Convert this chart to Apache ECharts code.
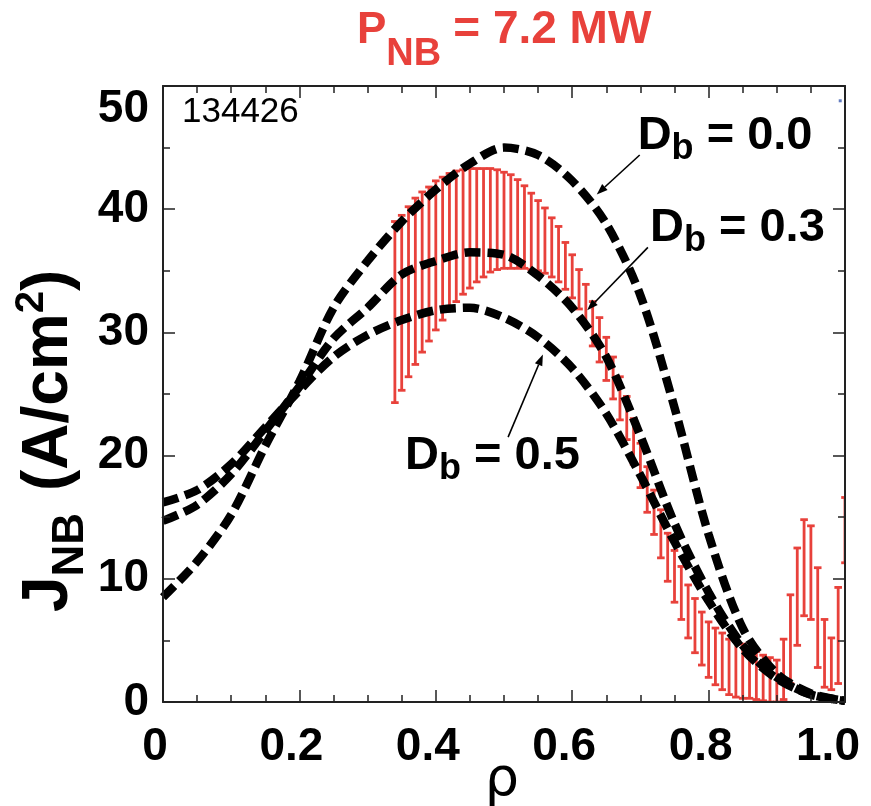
<!DOCTYPE html>
<html><head><meta charset="utf-8">
<script src="https://cdn.jsdelivr.net/npm/echarts@6/dist/echarts.min.js"></script>
<style>html,body{margin:0;padding:0;background:#fff}#c{width:871px;height:806px}</style>
</head><body><div id="c"></div>
<script>
// ---- data ----
const rhoGrid = [0,0.05,0.1,0.15,0.2,0.25,0.3,0.35,0.4,0.45,0.5,0.55,0.6,0.65,0.7,0.75,0.8,0.85,0.9,0.95,1.0];
const jDb00 = [8.5,11.4,15.2,20.8,26.0,32.0,35.8,39.0,41.6,43.7,45.0,44.4,42.3,38.8,33.0,23.9,13.6,6.0,2.3,0.7,0.1];
const jDb03 = [14.7,16.0,18.5,22.0,25.6,29.5,32.0,34.7,35.8,36.5,36.3,34.6,32.0,28.0,21.6,14.5,8.9,4.6,2.0,0.6,0.1];
const jDb05 = [16.2,17.2,19.3,22.3,25.3,28.0,29.8,31.0,31.8,32.0,31.2,29.6,27.1,23.4,18.4,13.0,8.2,4.3,1.9,0.6,0.1];
const rhoMeas = [0.34,0.35,0.36,0.37,0.38,0.39,0.40,0.41,0.42,0.43,0.44,0.45,0.46,0.47,0.48,0.49,0.50,0.51,0.52,0.53,0.54,0.55,0.56,0.57,0.58,0.59,0.60,0.61,0.62,0.63,0.64,0.65,0.66,0.67,0.68,0.69,0.70,0.71,0.72,0.73,0.74,0.75,0.76,0.77,0.78,0.79,0.80,0.81,0.82,0.83,0.84,0.85,0.86,0.87,0.88,0.89,0.90,0.91,0.92,0.93,0.94,0.95,0.96,0.97,0.98,0.99,1.00];
const jLow = [24.3,25.3,26.4,27.4,28.4,29.3,30.2,31.0,31.8,32.5,33.1,33.6,34.1,34.5,34.9,35.1,35.2,35.2,35.2,35.2,35.1,35.0,34.8,34.5,34.1,33.5,32.8,31.9,30.6,28.9,27.6,26.1,24.6,22.9,21.3,19.3,17.4,15.4,13.6,11.7,9.8,8.1,6.7,5.2,4.0,3.0,2.0,1.4,1.0,0.6,0.4,0.3,0.3,0.2,0.1,0.0,0.0,0.2,1.5,4.6,7.0,6.7,2.8,1.2,1.0,1.5,11.3];
const jHigh = [39.0,39.5,40.2,40.9,41.4,41.8,42.3,42.6,42.9,43.1,43.2,43.3,43.3,43.3,43.3,43.2,43.0,42.8,42.4,41.9,41.3,40.7,40.1,39.3,38.6,37.3,36.3,35.1,33.9,32.5,31.2,29.6,28.0,26.4,24.8,23.0,21.0,19.1,17.2,15.6,13.7,12.3,11.0,9.5,8.4,7.3,6.5,6.0,5.6,5.1,4.9,4.7,4.4,4.1,3.8,3.6,3.4,5.1,8.7,12.5,14.8,14.3,10.9,6.7,5.2,9.3,16.6];
const strayPoint = [[0.993, 48.8]];
const xTickLabels = {0:'0',0.2:'0.2',0.4:'0.4',0.6:'0.6',0.8:'0.8',1:'1.0'};
const curveLabels = ['0.0','0.3','0.5'];
// annotation anchors in data coordinates: [text left, text baseline], arrow from, arrow to
const annText = [[0.696,44.6],[0.714,37.1],[0.355,18.6]];
const annFrom = [[0.699,44.4],[0.711,36.9],[0.506,21.5]];
const annTo   = [[0.636,41.2],[0.622,31.8],[0.557,28.2]];

const RED = '#e8413b';
const FONT = '"Liberation Sans", Arial, sans-serif';
const chart = echarts.init(document.getElementById('c'), null, {renderer:'canvas'});

function pairs(xs, ys){ return xs.map((x,i)=>[x, ys[i]]); }
const dashStyle = {color:'#000', width:8.5, type:[16,7], cap:'butt'};

const AX = {show:true, onZero:false, lineStyle:{color:'#222', width:2}};
const TK = {show:true, inside:true, length:12, lineStyle:{color:'#222', width:1.5}};
function minor(n){ return {show:true, splitNumber:n, length:7, lineStyle:{color:'#222', width:1.5}}; }

const option = {
  animation:false,
  backgroundColor:'#fff',
  grid:{left:163, right:26, top:86, bottom:104, outerBoundsMode:'none'},
  xAxis:[
    {type:'value', min:0, max:1, interval:0.2, position:'bottom', z:10,
      axisLine:AX, axisTick:TK, minorTick:minor(4), splitLine:{show:false}, minorSplitLine:{show:false},
      axisLabel:{show:true, margin:22, color:'#000', fontSize:46, fontWeight:'bold', fontFamily:FONT,
        padding:[0,16,0,0],
        formatter:v=>{const k=Math.round(v*10)/10; return k===1 ? '{e|1.0}' : (xTickLabels[k] ?? '');},
        rich:{e:{fontSize:46, fontWeight:'bold', fontFamily:FONT, color:'#000', padding:[0,18,0,0]}}},
      name:'ρ', nameLocation:'middle', nameGap:52, nameMoveOverlap:false,
      nameTextStyle:{fontSize:54, color:'#000', fontFamily:'"DejaVu Sans", sans-serif', padding:[0,4,0,0]}},
    {type:'value', min:0, max:1, interval:0.2, position:'top', z:10,
      axisLine:AX, axisTick:TK, minorTick:minor(4), axisLabel:{show:false}, splitLine:{show:false}}
  ],
  yAxis:[
    {type:'value', min:0, max:50, interval:10, position:'left', z:10,
      axisLine:AX, axisTick:TK, minorTick:minor(2), splitLine:{show:false}, minorSplitLine:{show:false},
      axisLabel:{show:true, margin:14, color:'#000', fontSize:46, fontWeight:'bold', fontFamily:FONT,
        verticalAlignMaxLabel:'top'}},
    {type:'value', min:0, max:50, interval:10, position:'right', z:10,
      axisLine:AX, axisTick:TK, minorTick:minor(2), axisLabel:{show:false}, splitLine:{show:false}}
  ],
  series:[
    {type:'custom', name:'measured', xAxisIndex:0, yAxisIndex:0, clip:true, z:2,
      data: rhoMeas.map((r,i)=>[r, jLow[i], jHigh[i]]),
      encode:{x:0, y:[1,2]},
      renderItem:function(params, api){
        const x = api.value(0);
        const pLo = api.coord([x, api.value(1)]);
        const pHi = api.coord([x, api.value(2)]);
        const c = 3.8, st = {stroke:RED, lineWidth:2.8};
        return {type:'group', children:[
          {type:'line', shape:{x1:pLo[0], y1:pLo[1], x2:pHi[0], y2:pHi[1]}, style:st},
          {type:'line', shape:{x1:pHi[0]-c, y1:pHi[1], x2:pHi[0]+c, y2:pHi[1]}, style:st},
          {type:'line', shape:{x1:pLo[0]-c, y1:pLo[1], x2:pLo[0]+c, y2:pLo[1]}, style:st}
        ]};
      }
    },
    {type:'scatter', name:'stray', data:strayPoint, symbol:'rect', symbolSize:3, itemStyle:{color:'#3b5bb0'}, z:3},
    {type:'line', name:'Db=0.0', data:pairs(rhoGrid,jDb00), smooth:0.3, showSymbol:false, symbol:'none', lineStyle:dashStyle, z:5},
    {type:'line', name:'Db=0.3', data:pairs(rhoGrid,jDb03), smooth:0.3, showSymbol:false, symbol:'none', lineStyle:dashStyle, z:5},
    {type:'line', name:'Db=0.5', data:pairs(rhoGrid,jDb05), smooth:0.3, showSymbol:false, symbol:'none', lineStyle:dashStyle, z:5}
  ]
};
chart.setOption(option);

// ---- text helpers ----
const mctx = document.createElement('canvas').getContext('2d');
function tw(t, size, weight){ mctx.font = (weight||'normal')+' '+size+'px '+FONT; return mctx.measureText(t).width; }
function richPieces(parts, color){
  const els = []; let x = 0;
  parts.forEach(p=>{
    const w = p.weight||'bold';
    els.push({type:'text', x:x, y:(p.dy||0) - 0.35*p.size,
      style:{text:p.t, fill:color, font:w+' '+p.size+'px '+FONT, textAlign:'left', textVerticalAlign:'middle', verticalAlign:'middle'}});
    x += tw(p.t, p.size, w) + (p.gap||0);
  });
  return els;
}

const graphics = [];
// title
graphics.push({type:'group', x:357, y:46, children:richPieces([
  {t:'P', size:44},{t:'NB', size:38, dy:22, gap:12},{t:'= 7.2 MW', size:46}], RED)});
// shot number
graphics.push({type:'group', x:182, y:125, children:richPieces([{t:'134426', size:35, weight:'normal'}], '#000')});
// y axis title (rotated)
graphics.push({type:'group', x:72, y:612, rotation:Math.PI/2, children:richPieces([
  {t:'J', size:64},{t:'NB', size:44, dy:14, gap:4},{t:' (A/cm', size:64},{t:'2', size:40, dy:-26},{t:')', size:64}], '#000')});

// curve annotations with arrows
curveLabels.forEach((lab,i)=>{
  const tp = chart.convertToPixel({gridIndex:0}, annText[i]);
  graphics.push({type:'group', x:tp[0], y:tp[1], children:richPieces([
    {t:'D', size:47},{t:'b', size:36, dy:9},{t:' = '+lab, size:47}], '#000')});
  const a = chart.convertToPixel({gridIndex:0}, annFrom[i]);
  const b = chart.convertToPixel({gridIndex:0}, annTo[i]);
  const ang = Math.atan2(b[1]-a[1], b[0]-a[0]);
  const L = 11, W = 4;
  const bx = b[0]-L*Math.cos(ang), by = b[1]-L*Math.sin(ang);
  graphics.push({type:'line', shape:{x1:a[0], y1:a[1], x2:bx, y2:by}, style:{stroke:'#000', lineWidth:1.6}, z:10});
  graphics.push({type:'polygon', shape:{points:[[b[0],b[1]],[bx+W*Math.sin(ang), by-W*Math.cos(ang)],[bx-W*Math.sin(ang), by+W*Math.cos(ang)]]}, style:{fill:'#000'}, z:10});
});
chart.setOption({graphic:graphics});
</script>
</body></html>
